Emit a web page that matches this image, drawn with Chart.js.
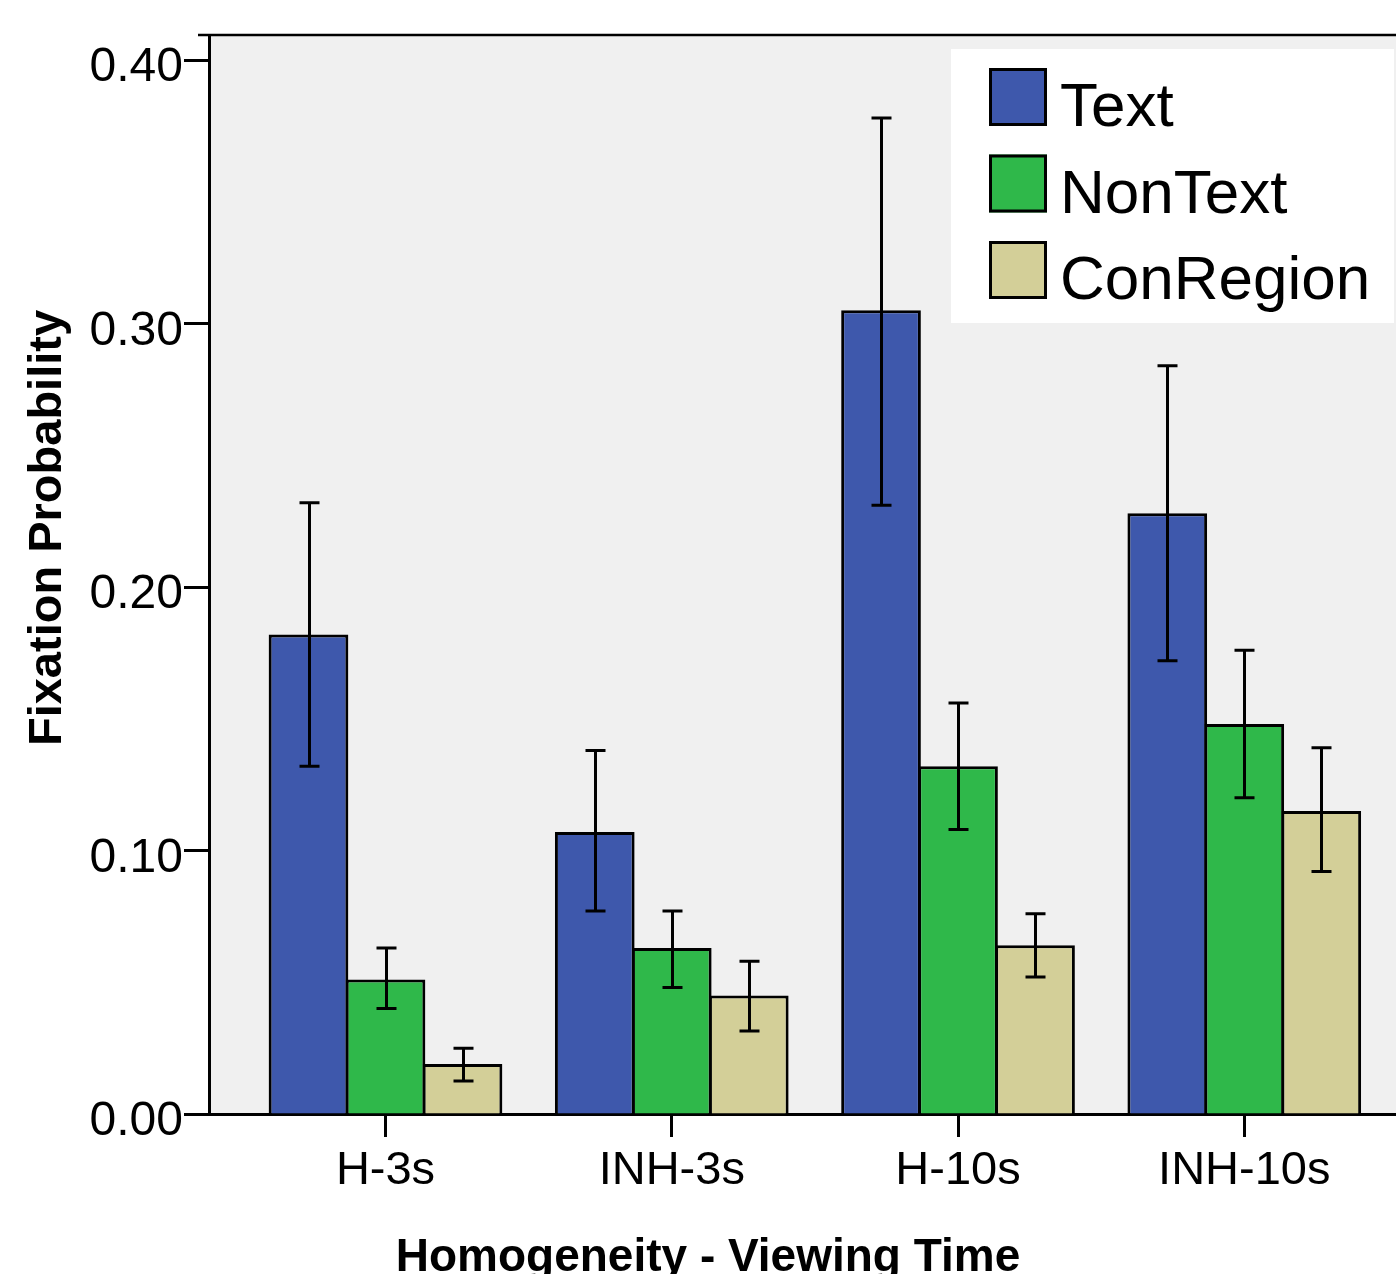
<!DOCTYPE html>
<html lang="en">
<head>
<meta charset="UTF-8">
<title>Fixation Probability</title>
<script src="https://cdn.jsdelivr.net/npm/chart.js@4.4.0/dist/chart.umd.min.js"></script>
<style>
  html, body { margin: 0; padding: 0; background: #fff; overflow: hidden; }
  #wrap { width: 1396px; height: 1274px; }
</style>
</head>
<body>
<div id="wrap"><canvas id="chart" width="1396" height="1274"></canvas></div>
<script>
// Homogeneity x viewing time conditions
const categories = ['H-3s', 'INH-3s', 'H-10s', 'INH-10s'];

// Mean fixation probability and error bar ends per area type
const textMean = [0.182, 0.107, 0.305, 0.228];
const textLow = [0.132, 0.077, 0.231, 0.172];
const textHigh = [0.232, 0.138, 0.378, 0.284];

const nonTextMean = [0.051, 0.063, 0.132, 0.148];
const nonTextLow = [0.040, 0.048, 0.108, 0.120];
const nonTextHigh = [0.063, 0.077, 0.156, 0.176];

const conRegionMean = [0.019, 0.045, 0.064, 0.115];
const conRegionLow = [0.0125, 0.0315, 0.052, 0.092];
const conRegionHigh = [0.025, 0.058, 0.076, 0.139];

const yTicks = [0, 0.1, 0.2, 0.3, 0.4];

const FONT = '"Liberation Sans", Arial, Helvetica, sans-serif';

const toPoints = vals => vals.map((v, i) => ({ x: i, y: v }));

const barStyle = {
    borderColor: '#000',
    borderWidth: 3,
    borderSkipped: 'start',
    categoryPercentage: 0.807,
    barPercentage: 1.035
};

// grey plot panel and the frame line along its top
const plotFrame = {
    id: 'plotFrame',
    beforeDraw(chart) {
        const { ctx, chartArea: a } = chart;
        ctx.save();
        ctx.fillStyle = '#f0f0f0';
        ctx.fillRect(a.left, a.top, a.right - a.left, a.bottom - a.top);
        ctx.strokeStyle = '#000';
        ctx.lineWidth = 2.5;
        ctx.beginPath();
        ctx.moveTo(a.left - 11, a.top);
        ctx.lineTo(a.right, a.top);
        ctx.stroke();
        ctx.restore();
    }
};

// whiskers with caps, drawn from each dataset's errLow / errHigh
const errorBars = {
    id: 'errorBars',
    afterDatasetsDraw(chart) {
        const { ctx } = chart;
        const y = chart.scales.y;
        ctx.save();
        ctx.strokeStyle = '#000';
        ctx.lineWidth = 3;
        chart.data.datasets.forEach((ds, di) => {
            chart.getDatasetMeta(di).data.forEach((bar, i) => {
                const top = y.getPixelForValue(ds.errHigh[i]);
                const bot = y.getPixelForValue(ds.errLow[i]);
                const x = Math.round(bar.x) + 0.5;
                ctx.beginPath();
                ctx.moveTo(x, top);
                ctx.lineTo(x, bot);
                ctx.moveTo(x - 10, top);
                ctx.lineTo(x + 10, top);
                ctx.moveTo(x - 10, bot);
                ctx.lineTo(x + 10, bot);
                ctx.stroke();
            });
        });
        ctx.restore();
    }
};

// boxed legend in the upper right corner of the plot
const boxLegend = {
    id: 'boxLegend',
    afterDraw(chart) {
        const { ctx } = chart;
        ctx.save();
        ctx.fillStyle = '#fff';
        ctx.fillRect(951, 49, 443, 274);
        ctx.font = '62px ' + FONT;
        ctx.textBaseline = 'alphabetic';
        ctx.textAlign = 'left';
        chart.data.datasets.forEach((ds, i) => {
            const top = 68 + i * 86.5;
            ctx.fillStyle = ds.backgroundColor;
            ctx.fillRect(989, top, 58, 58);
            ctx.lineWidth = 3;
            ctx.strokeStyle = '#000';
            ctx.strokeRect(990.5, top + 1.5, 55, 55);
            ctx.fillStyle = '#000';
            ctx.fillText(ds.label, 1060, top + 58);
        });
        ctx.restore();
    }
};

// axis titles
const axisTitles = {
    id: 'axisTitles',
    afterDraw(chart) {
        const { ctx } = chart;
        ctx.save();
        ctx.fillStyle = '#000';
        ctx.font = 'bold 46px ' + FONT;
        ctx.textAlign = 'center';
        ctx.textBaseline = 'alphabetic';
        ctx.fillText('Homogeneity - Viewing Time', 708, 1271);

        ctx.font = 'bold 47px ' + FONT;
        ctx.translate(48, 528);
        ctx.rotate(-Math.PI / 2);
        ctx.textBaseline = 'middle';
        ctx.fillText('Fixation Probability', 0, 0);
        ctx.restore();
    }
};

new Chart(document.getElementById('chart'), {
    type: 'bar',
    data: {
        datasets: [
            { label: 'Text', data: toPoints(textMean), errLow: textLow, errHigh: textHigh,
              backgroundColor: '#3e58ac', ...barStyle },
            { label: 'NonText', data: toPoints(nonTextMean), errLow: nonTextLow, errHigh: nonTextHigh,
              backgroundColor: '#2fb84a', ...barStyle },
            { label: 'ConRegion', data: toPoints(conRegionMean), errLow: conRegionLow, errHigh: conRegionHigh,
              backgroundColor: '#d3cf98', ...barStyle }
        ]
    },
    options: {
        responsive: false,
        animation: false,
        devicePixelRatio: 1,
        layout: { padding: { top: 35, right: 0, bottom: 0, left: 0 } },
        plugins: {
            legend: { display: false },
            tooltip: { enabled: false }
        },
        scales: {
            x: {
                type: 'linear',
                min: -0.6166,
                max: 3.53,
                offset: false,
                afterBuildTicks: s => { s.ticks = categories.map((c, i) => ({ value: i })); },
                afterFit: s => { s.height = 160; },
                ticks: {
                    callback: v => categories[v],
                    font: { family: FONT, size: 47 },
                    color: '#000',
                    padding: 6,
                    maxRotation: 0,
                    autoSkip: false
                },
                grid: {
                    offset: false,
                    drawOnChartArea: false,
                    drawTicks: true,
                    tickLength: 23,
                    tickWidth: 3,
                    tickColor: '#000'
                },
                border: { display: true, color: '#000', width: 3 }
            },
            y: {
                min: 0,
                max: 0.4095,
                afterBuildTicks: s => { s.ticks = yTicks.map(v => ({ value: v })); },
                afterFit: s => { s.width = 209; },
                ticks: {
                    callback: v => v.toFixed(2),
                    font: { family: FONT, size: 48 },
                    color: '#000',
                    padding: 1,
                    labelOffset: 8
                },
                grid: {
                    drawOnChartArea: false,
                    drawTicks: true,
                    tickLength: 25,
                    tickWidth: 3,
                    tickColor: '#000'
                },
                border: { display: true, color: '#000', width: 3 }
            }
        }
    },
    plugins: [plotFrame, errorBars, boxLegend, axisTitles]
});
</script>
</body>
</html>
